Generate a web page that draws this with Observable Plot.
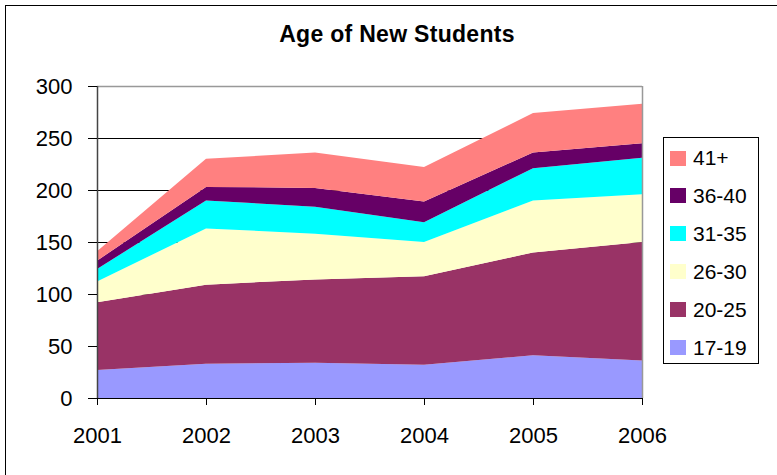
<!DOCTYPE html>
<html>
<head>
<meta charset="utf-8">
<script src="https://cdn.jsdelivr.net/npm/d3@7"></script>
<script src="https://cdn.jsdelivr.net/npm/@observablehq/plot@0.6"></script>
<style>
  html, body { margin: 0; padding: 0; background: #fff; overflow: hidden; }
  #wrap { position: relative; width: 777px; height: 475px; overflow: hidden; font-family: "Liberation Sans", Arial, sans-serif; }
  #frame { position: absolute; left: 5px; top: 5px; width: 800px; height: 500px; border-left: 1.5px solid #000; border-top: 1.5px solid #000; }
  #title { position: absolute; left: 0; width: 794px; top: 21px; text-align: center; font-weight: bold; font-size: 23px; letter-spacing: 0.3px; color: #000; }
  #legend { position: absolute; left: 663px; top: 137px; width: 94px; height: 225px; border: 1px solid #000; background: #fff; }
  .item { position: absolute; left: 6px; height: 20px; display: flex; align-items: center; font-size: 21px; color: #000; }
  .sw { width: 16px; height: 15px; margin-right: 7px; }
  #chart { position: absolute; left: 0; top: 0; }
</style>
</head>
<body>
<div id="wrap">
  <div id="frame"></div>
  <div id="chart"></div>
  <div id="title">Age of New Students</div>
  <div id="legend"></div>
</div>
<script>
const years = [2001, 2002, 2003, 2004, 2005, 2006];
const seriesNames = ["17-19", "20-25", "26-30", "31-35", "36-40", "41+"];
const seriesColors = ["#9999FF", "#993366", "#FFFFCC", "#00FFFF", "#660066", "#FF8080"];
const v17_19 = [27, 33, 34, 32, 41, 36];
const v20_25 = [65, 76, 80, 85, 99, 114];
const v26_30 = [20, 54, 44, 33, 50, 46];
const v31_35 = [12, 27, 26, 19, 31, 35];
const v36_40 = [8, 13, 18, 20, 15, 14];
const v41plus = [9, 27, 34, 33, 38, 38];
const yTicks = [0, 50, 100, 150, 200, 250, 300];
const gridValues = [50, 100, 150, 200, 250];

const seriesValues = [v17_19, v20_25, v26_30, v31_35, v36_40, v41plus];
const data = [];
seriesNames.forEach((name, i) => {
  years.forEach((yr, j) => data.push({year: yr, series: name, value: seriesValues[i][j]}));
});

const chart = Plot.plot({
  width: 777,
  height: 475,
  marginLeft: 97,
  marginRight: 135,
  marginTop: 86,
  marginBottom: 77,
  style: { fontFamily: "'Liberation Sans', Arial, sans-serif", background: "transparent", overflow: "visible" },
  x: { type: "linear", domain: [2001, 2006] },
  y: { domain: [0, 300] },
  color: { domain: seriesNames, range: seriesColors },
  marks: [
    Plot.ruleY(gridValues, { stroke: "#000", strokeWidth: 1 }),
    Plot.areaY(data, { x: "year", y: "value", fill: "series", z: "series", order: seriesNames }),
    Plot.ruleY([300], { stroke: "#999", strokeWidth: 1.5 }),
    Plot.ruleX([2006], { stroke: "#999", strokeWidth: 1.5 }),
    Plot.ruleX([2001], { stroke: "#444", strokeWidth: 1.5 }),
    Plot.ruleY([0], { stroke: "#000", strokeWidth: 1.2 }),
    Plot.axisY({ ticks: yTicks, tickSize: 9, tickPadding: 16, fontSize: 22, tickFormat: d => String(d), label: null, stroke: "#000", color: "#000" }),
    Plot.axisX({ ticks: years, tickSize: 7, tickPadding: 22, fontSize: 22, tickFormat: d => String(d), label: null, color: "#000" })
  ]
});
document.getElementById("chart").appendChild(chart);

const legend = document.getElementById("legend");
const legendOrder = seriesNames.slice().reverse();
legendOrder.forEach((name, i) => {
  const idx = seriesNames.indexOf(name);
  const item = document.createElement("div");
  item.className = "item";
  item.style.top = (157 + 37.9 * i - 137 - 10) + "px";
  const sw = document.createElement("div");
  sw.className = "sw";
  sw.style.background = seriesColors[idx];
  const t = document.createElement("span");
  t.textContent = name;
  item.appendChild(sw);
  item.appendChild(t);
  legend.appendChild(item);
});
</script>
</body>
</html>
